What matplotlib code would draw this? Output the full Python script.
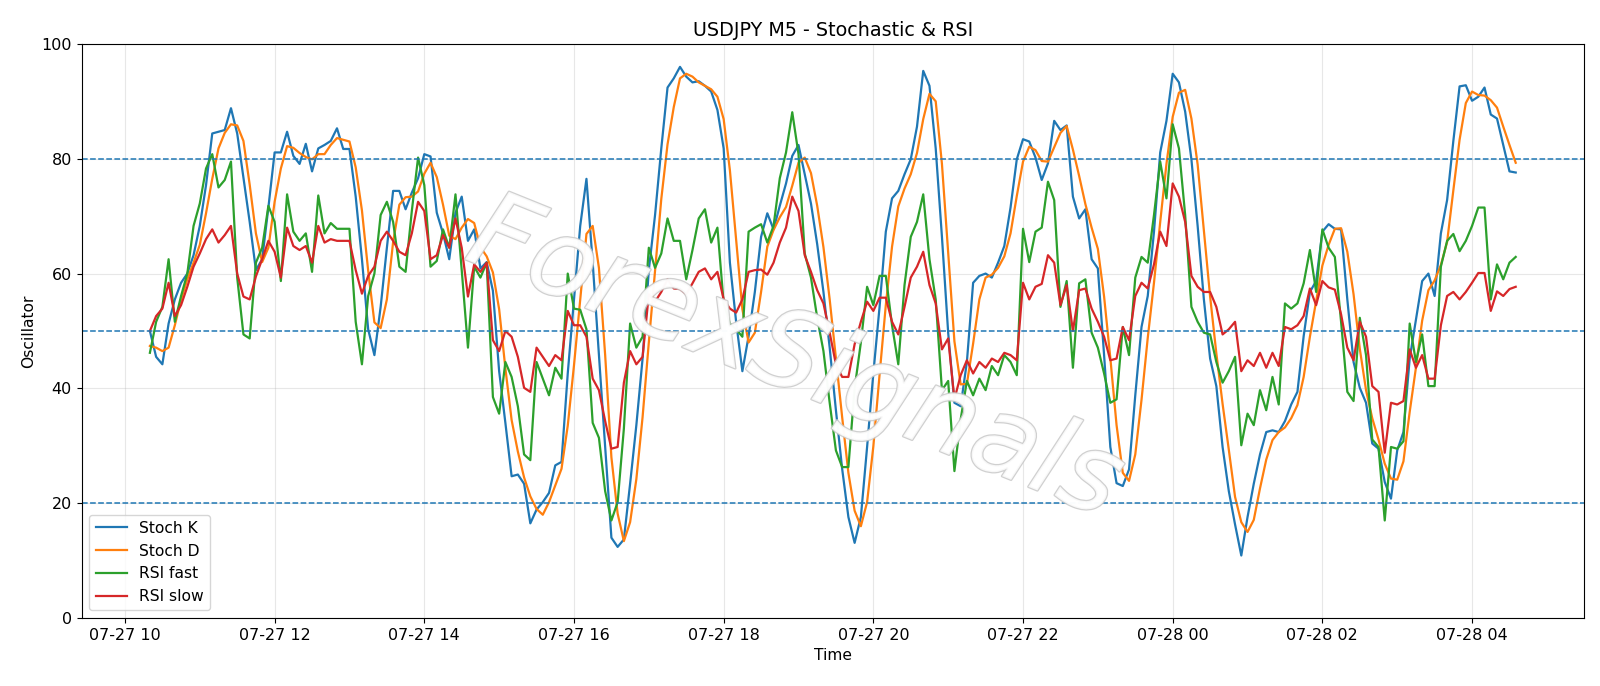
import numpy as np
import pandas as pd
import matplotlib
matplotlib.use('Agg')
import matplotlib.pyplot as plt
import matplotlib.dates as mdates
import matplotlib.patheffects as pe

# 5 minute bars, 07-27 10:20 -> 07-28 04:35
times = pd.date_range('2023-07-27 10:20', periods=220, freq='5min')

stoch_k = [
    50.0, 45.5, 44.2, 51.3, 55.5, 58.4, 60.0, 63.2, 68.3, 75.4,
    84.4, 84.7, 85.0, 88.8, 84.4, 76.7, 69.0, 60.6, 62.5, 71.5,
    81.1, 81.1, 84.7, 80.5, 79.1, 82.6, 77.8, 81.8, 82.4, 83.1,
    85.3, 81.7, 81.7, 73.4, 62.5, 50.3, 45.8, 54.2, 64.5, 74.4,
    74.4, 71.2, 74.1, 76.6, 80.8, 80.4, 70.6, 67.0, 62.5, 70.6,
    73.4, 65.7, 67.7, 60.9, 62.0, 57.0, 43.0, 34.0, 24.7, 25.0,
    23.4, 16.5, 18.9, 20.2, 21.8, 26.6, 27.2, 42.6, 55.5, 68.3,
    76.5, 61.9, 45.8, 29.8, 14.0, 12.4, 13.7, 23.4, 33.6, 45.2,
    60.6, 70.2, 81.8, 92.4, 94.0, 96.0, 94.3, 93.3, 93.5, 92.7,
    91.7, 88.5, 81.8, 61.9, 51.6, 43.0, 49.1, 56.8, 66.4, 70.5,
    67.7, 71.8, 75.7, 80.5, 82.4, 77.3, 72.2, 65.1, 56.8, 47.1,
    36.2, 26.0, 17.6, 13.1, 17.6, 29.8, 42.6, 54.2, 67.3, 73.1,
    74.4, 77.3, 79.9, 85.6, 95.3, 92.7, 81.8, 66.4, 49.7, 37.5,
    36.9, 44.6, 58.4, 59.6, 60.0, 59.3, 61.9, 64.8, 71.5, 79.9,
    83.4, 83.0, 80.2, 76.3, 79.2, 86.6, 85.0, 85.8, 73.4, 69.6,
    71.2, 62.5, 60.9, 45.8, 29.8, 23.5, 23.0, 25.9, 38.8, 50.7,
    56.1, 67.3, 81.1, 86.6, 94.8, 93.3, 88.2, 79.9, 68.3, 55.5,
    45.2, 40.4, 29.8, 22.1, 16.3, 10.9, 17.6, 23.4, 28.5, 32.4,
    32.7, 32.4, 34.3, 37.2, 39.4, 49.1, 56.8, 58.7, 67.3, 68.6,
    67.8, 67.7, 55.5, 44.6, 40.1, 37.5, 30.4, 29.5, 23.7, 20.8,
    29.2, 32.4, 45.2, 52.0, 58.7, 60.0, 56.1, 67.0, 72.8, 83.1,
    92.6, 92.8, 90.1, 90.8, 92.4, 87.7, 87.0, 82.4, 77.8, 77.6,
]

stoch_d = [
    47.4, 47.1, 46.5, 47.1, 51.0, 55.5, 59.0, 61.9, 65.0, 70.5,
    76.5, 81.8, 84.5, 86.0, 85.8, 83.1, 75.5, 67.0, 62.0, 64.5,
    72.5, 78.3, 82.2, 81.9, 81.0, 80.3, 79.9, 80.8, 80.8, 82.4,
    83.6, 83.3, 83.0, 78.5, 71.0, 60.5, 51.5, 50.5, 55.5, 65.5,
    72.0, 73.3, 73.4, 74.3, 77.4, 79.3, 76.8, 72.0, 66.6, 66.0,
    68.0, 69.5, 68.8, 64.6, 63.0, 60.2, 53.8, 43.5, 34.5, 29.0,
    24.5, 21.2, 19.0, 18.0, 20.2, 23.1, 26.0, 33.5, 44.0, 55.5,
    66.9, 68.3, 61.0, 45.8, 28.0, 18.2, 13.4, 16.7, 24.2, 35.0,
    48.0, 60.5, 73.0, 82.5, 89.0, 94.0, 94.8, 94.3, 93.3, 92.7,
    92.1, 90.8, 86.9, 78.0, 66.0, 53.8, 48.0, 49.7, 56.8, 64.7,
    67.6, 69.8, 71.6, 75.3, 79.3, 80.2, 77.5, 71.8, 64.6, 55.5,
    45.3, 35.0, 25.3, 18.7, 16.0, 20.2, 29.9, 42.4, 54.5, 64.7,
    71.7, 74.8, 77.3, 81.0, 86.9, 91.3, 90.0, 79.1, 63.6, 48.2,
    40.7, 40.8, 47.8, 55.5, 59.3, 59.8, 61.0, 63.0, 67.0, 73.5,
    79.5, 82.1, 81.5, 79.6, 79.5, 82.0, 84.5, 85.7, 81.6, 77.0,
    72.1, 68.0, 64.3, 56.0, 45.3, 33.6, 25.3, 23.9, 28.5, 38.0,
    48.8, 58.4, 69.0, 79.1, 87.3, 91.5, 92.0, 87.0, 79.0, 67.5,
    56.0, 46.1, 37.3, 29.3, 21.1, 16.7, 15.0, 17.1, 22.6, 27.6,
    31.0, 32.4, 33.2, 34.8, 37.1, 42.0, 49.0, 55.2, 61.4, 65.0,
    67.8, 67.9, 63.8, 56.4, 46.9, 39.7, 34.8, 31.1, 26.9, 24.3,
    24.1, 27.3, 35.9, 43.6, 51.8, 57.1, 58.8, 61.5, 65.5, 74.5,
    83.3, 89.7, 91.7, 91.1, 91.0, 90.2, 88.9, 85.6, 82.4, 79.3,
]

rsi_fast = [
    46.2, 51.6, 54.2, 62.5, 51.6, 56.1, 60.0, 68.3, 72.2, 78.3,
    80.8, 75.0, 76.3, 79.5, 59.3, 49.4, 48.7, 61.9, 64.5, 71.8,
    69.0, 58.7, 73.8, 67.3, 65.7, 67.0, 60.3, 73.6, 67.0, 68.8,
    67.8, 67.8, 67.8, 51.6, 44.2, 56.1, 60.0, 70.2, 72.5, 69.0,
    61.2, 60.3, 70.9, 80.2, 75.4, 61.2, 62.2, 67.7, 64.5, 73.8,
    60.6, 47.1, 61.2, 59.3, 61.9, 38.5, 35.6, 44.6, 42.0, 36.9,
    28.5, 27.5, 44.6, 41.7, 38.8, 43.6, 41.7, 60.0, 53.9, 53.7,
    50.3, 34.0, 31.4, 22.1, 17.0, 20.2, 33.0, 51.3, 47.1, 49.0,
    64.5, 61.0, 63.5, 69.6, 65.7, 65.7, 59.0, 64.1, 69.6, 71.2,
    65.4, 68.0, 54.8, 51.3, 50.3, 49.0, 67.3, 68.0, 68.6, 65.4,
    68.3, 76.6, 81.1, 88.1, 80.8, 63.5, 59.3, 52.3, 46.5, 37.5,
    29.2, 26.3, 26.3, 40.0, 48.0, 57.7, 54.5, 59.6, 59.6, 51.0,
    44.2, 58.0, 66.4, 69.0, 73.8, 62.5, 55.5, 39.7, 41.3, 25.6,
    34.6, 41.3, 38.8, 41.7, 39.7, 43.9, 42.3, 45.8, 44.6, 42.3,
    67.8, 62.0, 67.3, 68.0, 76.0, 72.8, 54.2, 58.7, 43.6, 58.3,
    59.0, 49.7, 47.1, 42.6, 37.5, 38.1, 50.7, 45.8, 59.3, 62.9,
    61.9, 70.2, 79.5, 73.1, 86.0, 81.8, 70.2, 54.2, 51.6, 49.7,
    49.4, 44.6, 41.0, 43.0, 45.5, 30.1, 35.6, 33.6, 39.7, 36.2,
    42.0, 37.2, 54.8, 53.9, 54.8, 58.3, 64.1, 56.8, 67.7, 64.5,
    62.9, 51.6, 39.4, 37.8, 52.3, 45.8, 31.1, 29.8, 17.0, 29.8,
    29.5, 30.8, 51.3, 44.6, 49.4, 40.4, 40.4, 61.2, 65.7, 66.9,
    63.9, 65.7, 68.3, 71.5, 71.5, 55.5, 61.6, 59.0, 61.9, 62.9,
]

rsi_slow = [
    50.0, 52.6, 53.9, 58.4, 52.6, 54.5, 57.7, 61.2, 63.5, 66.0,
    67.7, 65.4, 66.7, 68.3, 60.0, 56.0, 55.5, 59.5, 62.5, 65.7,
    63.8, 59.3, 68.0, 64.8, 64.1, 64.8, 61.9, 68.3, 65.4, 66.0,
    65.7, 65.7, 65.7, 60.6, 56.5, 59.6, 61.2, 65.7, 67.3, 65.7,
    63.8, 63.2, 67.0, 72.5, 70.9, 62.5, 63.2, 66.7, 64.5, 69.6,
    64.5, 56.0, 61.6, 60.3, 61.9, 48.4, 46.5, 50.0, 49.0, 45.5,
    40.1, 39.4, 47.1, 45.5, 43.9, 45.8, 44.9, 53.5, 51.0, 51.0,
    49.0, 41.7, 39.7, 34.3, 29.5, 29.8, 41.0, 46.5, 44.2, 45.5,
    56.4, 55.1, 56.8, 59.0, 57.4, 57.3, 56.4, 58.3, 60.3, 60.9,
    59.0, 60.3, 55.5, 53.9, 53.2, 55.5, 60.3, 60.6, 60.7, 59.8,
    61.9, 65.4, 68.0, 73.4, 70.9, 63.2, 60.3, 57.1, 54.8, 49.7,
    44.2, 42.0, 42.0, 47.7, 51.6, 55.1, 53.5, 55.8, 55.8, 51.6,
    49.4, 54.2, 59.3, 61.2, 63.8, 58.0, 54.8, 46.8, 48.7, 38.1,
    42.3, 44.9, 42.6, 44.6, 43.6, 45.2, 44.6, 46.2, 45.8, 44.9,
    58.4, 55.5, 57.7, 58.2, 63.2, 61.9, 54.5, 58.0, 50.0, 57.1,
    57.4, 53.9, 51.6, 49.0, 44.9, 45.2, 50.7, 48.4, 56.1, 58.4,
    57.4, 61.6, 67.3, 64.8, 75.7, 73.4, 69.0, 59.6, 57.7, 56.8,
    56.8, 54.2, 49.4, 50.3, 51.6, 43.0, 44.9, 43.9, 46.2, 43.6,
    46.2, 43.9, 50.7, 50.3, 51.0, 52.6, 57.4, 54.5, 58.7, 57.6,
    57.2, 52.9, 47.1, 44.9, 51.6, 49.0, 40.4, 39.4, 28.8, 37.5,
    37.2, 37.8, 46.8, 43.6, 45.8, 41.7, 41.7, 51.0, 56.1, 56.8,
    55.5, 56.8, 58.4, 60.1, 60.1, 53.5, 56.9, 56.1, 57.3, 57.7,
]

levels = [80, 50, 20]

fig, ax = plt.subplots(figsize=(16, 6.86), dpi=100)
fig.subplots_adjust(left=0.051, right=0.99, top=0.936, bottom=0.099)

lw = 1.6
ax.plot(times, stoch_k, label='Stoch K', color='#1f77b4', lw=lw)
ax.plot(times, stoch_d, label='Stoch D', color='#ff7f0e', lw=lw)
ax.plot(times, rsi_fast, label='RSI fast', color='#2ca02c', lw=lw)
ax.plot(times, rsi_slow, label='RSI slow', color='#d62728', lw=lw)

for lv in levels:
    ax.axhline(lv, color='#1f77b4', linestyle='--', lw=1.1)

ax.set_ylim(0, 100)
ax.xaxis.set_major_locator(mdates.HourLocator(byhour=range(0, 24, 2)))
ax.xaxis.set_major_formatter(mdates.DateFormatter('%m-%d %H'))
ax.grid(True, alpha=0.3)
ax.tick_params(labelsize=11.5)

ax.set_title('USDJPY M5 - Stochastic & RSI', fontsize=13.8)
ax.set_xlabel('Time', fontsize=11.2)
ax.set_ylabel('Oscillator', fontsize=11.2)
ax.legend(loc='lower left', fontsize=11.2)

# watermark
ax.text(0.475, 0.45, 'ForexSignals', transform=ax.transAxes, fontsize=78,
        rotation=-22, ha='center', va='center', style='italic',
        color='white', alpha=0.85, zorder=5,
        path_effects=[pe.SimpleLineShadow(offset=(3, -3), shadow_color='#888888', alpha=0.35),
                      pe.withStroke(linewidth=1.8, foreground='#c8c8c8')])

fig.savefig('out.png', dpi=100)
